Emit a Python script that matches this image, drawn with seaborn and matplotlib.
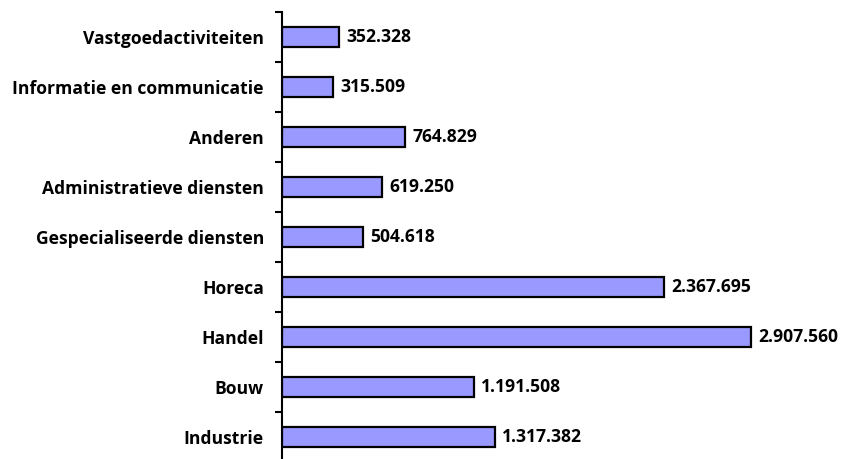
import matplotlib
matplotlib.use("Agg")
import matplotlib.pyplot as plt
import seaborn as sns
import pandas as pd
import numpy as np

categories = ["Vastgoedactiviteiten", "Informatie en communicatie", "Anderen",
              "Administratieve diensten", "Gespecialiseerde diensten", "Horeca",
              "Handel", "Bouw", "Industrie"]
values = [352328, 315509, 764829, 619250, 504618, 2367695, 2907560, 1191508, 1317382]
value_labels = ["352.328", "315.509", "764.829", "619.250", "504.618",
                "2.367.695", "2.907.560", "1.191.508", "1.317.382"]

sns.set_style("white")
plt.rcParams['font.family'] = ['Open Sans', 'DejaVu Sans']
plt.rcParams['text.color'] = 'black'
plt.rcParams['ytick.color'] = 'black'
plt.rcParams['ytick.labelcolor'] = 'black'

df = pd.DataFrame({"cat": categories, "val": values})

fig = plt.figure(figsize=(8.52, 4.59), dpi=100)
ax = fig.add_axes([282/852, 1 - 462/459, 565/852, 450/459])

sns.barplot(data=df, y="cat", x="val", orient="h", order=categories,
            color="#9999FF", saturation=1, width=0.4,
            edgecolor="black", linewidth=1.6, ax=ax)

ax.set_xlim(0, 3.5e6)
ax.set_ylim(len(categories) - 0.5, -0.5)
ax.set_xlabel("")
ax.set_ylabel("")
ax.set_xticks([])

for s in ["top", "right", "bottom"]:
    ax.spines[s].set_visible(False)
ax.spines["left"].set_color("black")
ax.spines["left"].set_linewidth(1.5)

fs = 12.6
ax.set_yticks(np.arange(len(categories)))
ax.set_yticklabels(categories, fontsize=fs, fontweight="bold", color="black")
ax.tick_params(axis="y", which="major", left=True, length=0, pad=13)
ax.set_yticks(np.arange(len(categories) + 1) - 0.5, minor=True)
ax.tick_params(axis="y", which="minor", left=True, length=5, width=1.5,
               color="black", direction="out")

for i, (v, lab) in enumerate(zip(values, value_labels)):
    ax.annotate(lab, xy=(v, i), xytext=(5, 0), textcoords="offset points",
                va="center", ha="left", fontsize=fs, fontweight="bold", color="black")

fig.savefig("out.png", dpi=100)
